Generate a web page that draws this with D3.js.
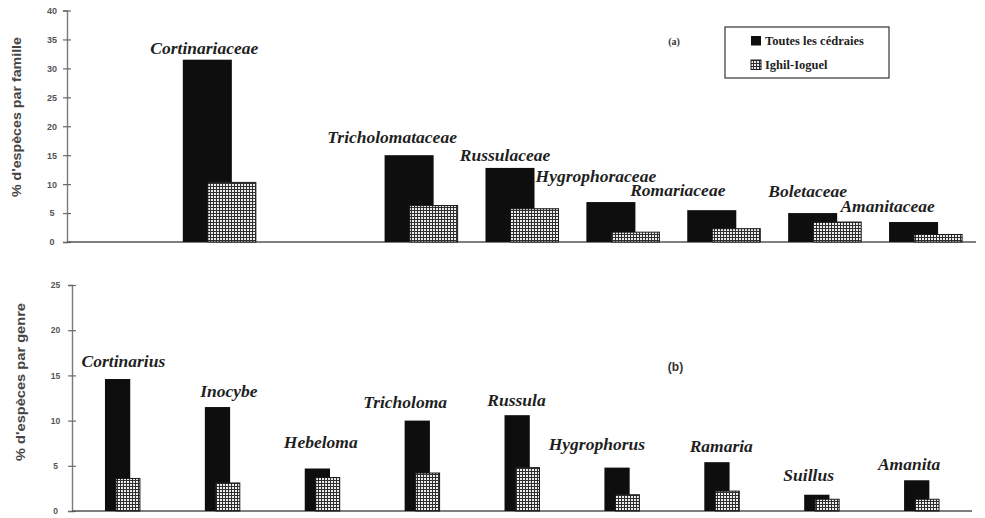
<!DOCTYPE html>
<html>
<head>
<meta charset="utf-8">
<script src="https://cdn.jsdelivr.net/npm/d3@7/dist/d3.min.js"></script>
<style>
  body { margin: 0; background: #fff; }
  svg { display: block; }
</style>
</head>
<body>
<svg id="chart" width="985" height="518"></svg>
<script>
// ---- Panel (a): share of species per family ----
const familySlots = ["", "Cortinariaceae", "", "Tricholomataceae", "Russulaceae",
                     "Hygrophoraceae", "Romariaceae", "Boletaceae", "Amanitaceae"];
const families = ["Cortinariaceae", "Tricholomataceae", "Russulaceae", "Hygrophoraceae",
                  "Romariaceae", "Boletaceae", "Amanitaceae"];
const familyAll   = [31.5, 15.0, 12.8, 6.9, 5.5, 5.0, 3.45];
const familyIghil = [10.3, 6.3, 5.75, 1.7, 2.3, 3.45, 1.3];
const familyTicks = [0, 5, 10, 15, 20, 25, 30, 35, 40];

// ---- Panel (b): share of species per genus ----
const genera = ["Cortinarius", "Inocybe", "Hebeloma", "Tricholoma", "Russula",
                "Hygrophorus", "Ramaria", "Suillus", "Amanita"];
const genusAll   = [14.6, 11.5, 4.7, 10.0, 10.6, 4.8, 5.4, 1.8, 3.4];
const genusIghil = [3.6, 3.1, 3.7, 4.2, 4.8, 1.8, 2.2, 1.3, 1.3];
const genusTicks = [0, 5, 10, 15, 20, 25];

const seriesNames = ["Toutes les cédraies", "Ighil-Ioguel"];

// Hand placement of the italic name above each pair of bars: [dx from group centre, gap above bar]
const familyLabelShift = [[-15, 6], [-29, 12], [-17, 6.5], [-27, 20], [-46, 14], [-17, 16], [-38, 10]];
const genusLabelShift  = [[0.5, 12], [6, 10.5], [-2, 21], [-17.5, 12.5], [-6, 9], [-25.5, 18], [-1, 10], [-13.5, 14], [-13, 10]];

const svg = d3.select("#chart");

// checkered fill used for the Ighil-Ioguel series
const defs = svg.append("defs");
const pat = defs.append("pattern")
  .attr("id", "grid").attr("width", 3).attr("height", 3)
  .attr("patternUnits", "userSpaceOnUse");
pat.append("rect").attr("width", 3).attr("height", 3).attr("fill", "#2f2f2f");
pat.append("rect").attr("x", 1).attr("y", 1).attr("width", 2).attr("height", 2).attr("fill", "#ededed");

function drawPanel(cfg) {
  const g = svg.append("g");
  const x = d3.scaleBand().domain(d3.range(cfg.slots.length)).range(cfg.xRange);
  const y = d3.scaleLinear().domain([0, d3.max(cfg.ticks)]).range(cfg.yRange);
  const step = x.step();
  const geo = cfg.geo;

  // y axis with crossing tick marks
  const axis = d3.axisLeft(y).tickValues(cfg.ticks).tickSize(4).tickPadding(0);
  const ax = g.append("g").attr("transform", `translate(${cfg.axisX},0)`).call(axis);
  ax.select(".domain").attr("stroke", "#7a7a7a").attr("stroke-width", 1.4);
  ax.selectAll(".tick line").attr("x1", 4).attr("stroke", "#6a6a6a").attr("stroke-width", 1.2);
  ax.selectAll(".tick text")
    .attr("x", cfg.tickLabelDx).attr("text-anchor", "middle")
    .attr("fill", "#555").attr("font-family", "'Liberation Sans', Arial, sans-serif")
    .attr("font-weight", "bold").attr("font-size", cfg.tickFont);

  // baseline
  g.append("line")
    .attr("x1", cfg.axisX).attr("x2", cfg.xRange[1])
    .attr("y1", y(0)).attr("y2", y(0))
    .attr("stroke", "#555").attr("stroke-width", 1.3);

  const rows = cfg.names.map((n, i) => ({
    name: n, all: cfg.all[i], ighil: cfg.ighil[i],
    slot: cfg.slots.indexOf(n), shift: cfg.shift[i]
  }));
  const left = d => x(d.slot) + geo.blackOff * step;

  g.selectAll(".all").data(rows).join("rect")
    .attr("class", "all")
    .attr("x", left).attr("width", geo.blackW * step)
    .attr("y", d => y(d.all)).attr("height", d => y(0) - y(d.all))
    .attr("fill", "#0e0e0e");

  g.selectAll(".ighil").data(rows).join("rect")
    .attr("class", "ighil")
    .attr("x", d => left(d) + geo.greyOff * step).attr("width", geo.greyW * step)
    .attr("y", d => y(d.ighil)).attr("height", d => y(0) - y(d.ighil))
    .attr("fill", "url(#grid)").attr("stroke", "#1a1a1a").attr("stroke-width", 1);

  g.selectAll(".name").data(rows).join("text")
    .attr("class", "name")
    .attr("x", d => x(d.slot) + step / 2 + d.shift[0])
    .attr("y", d => y(d.all) - d.shift[1])
    .attr("text-anchor", "middle")
    .attr("font-family", "'Liberation Serif', 'Times New Roman', serif")
    .attr("font-style", "italic").attr("font-weight", "bold")
    .attr("font-size", cfg.nameFont).attr("fill", "#1f1f1f")
    .text(d => d.name);

  // rotated y title
  g.append("text")
    .attr("transform", `translate(${cfg.title.x},${cfg.title.y}) rotate(-90)`)
    .attr("text-anchor", "middle").attr("dominant-baseline", "central")
    .attr("font-family", "'Liberation Sans', Arial, sans-serif")
    .attr("font-weight", "bold").attr("font-size", 13).attr("fill", "#444")
    .attr("textLength", cfg.title.len).attr("lengthAdjust", "spacingAndGlyphs")
    .text(cfg.title.text);

  // panel tag
  g.append("text")
    .attr("x", cfg.tag.x).attr("y", cfg.tag.y)
    .attr("text-anchor", "middle")
    .attr("font-family", cfg.tag.family).attr("font-weight", "bold")
    .attr("font-size", cfg.tag.size).attr("fill", "#333")
    .text(cfg.tag.text);
}

drawPanel({
  slots: familySlots, names: families, all: familyAll, ighil: familyIghil,
  ticks: familyTicks, xRange: [68, 976], yRange: [242, 10.5], axisX: 67,
  tickLabelDx: -15, tickFont: 9,
  geo: { blackOff: 0.138, blackW: 0.486, greyOff: 0.248, greyW: 0.476 },
  shift: familyLabelShift, nameFont: 17.5,
  title: { text: "% d'espèces par famille", x: 16, y: 117, len: 160 },
  tag: { text: "(a)", x: 674, y: 45, size: 10, family: "'Liberation Serif', serif" }
});

drawPanel({
  slots: genera, names: genera, all: genusAll, ighil: genusIghil,
  ticks: genusTicks, xRange: [73, 972], yRange: [511, 285], axisX: 72,
  tickLabelDx: -16.5, tickFont: 8.5,
  geo: { blackOff: 0.32, blackW: 0.253, greyOff: 0.11, greyW: 0.24 },
  shift: genusLabelShift, nameFont: 17.5,
  title: { text: "% d'espèces par genre", x: 20.5, y: 382, len: 158 },
  tag: { text: "(b)", x: 675.5, y: 371, size: 12, family: "'Liberation Sans', Arial, sans-serif" }
});

// legend
const lg = svg.append("g");
lg.append("rect").attr("x", 725).attr("y", 27).attr("width", 164).attr("height", 51)
  .attr("fill", "#fff").attr("stroke", "#444").attr("stroke-width", 1.3);
const swatches = [{ fill: "#0e0e0e", stroke: "none" }, { fill: "url(#grid)", stroke: "#1a1a1a" }];
seriesNames.forEach((name, i) => {
  const yy = 36 + i * 24;
  lg.append("rect").attr("x", 751).attr("y", yy).attr("width", 10).attr("height", 9.5)
    .attr("fill", swatches[i].fill).attr("stroke", swatches[i].stroke);
  lg.append("text").attr("x", 765).attr("y", yy + 9)
    .attr("font-family", "'Liberation Serif', 'Times New Roman', serif")
    .attr("font-weight", "bold").attr("font-size", 12.5).attr("fill", "#222")
    .text(name);
});
</script>
</body>
</html>
